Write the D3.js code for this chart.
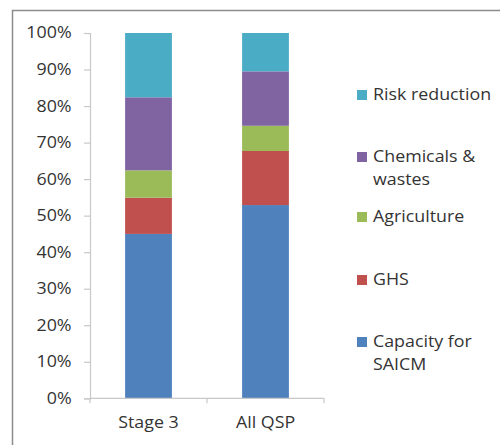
<!DOCTYPE html>
<html>
<head>
<meta charset="utf-8">
<script src="https://cdn.jsdelivr.net/npm/d3@7"></script>
<style>
  html, body { margin: 0; padding: 0; background: #fff; }
  svg { display: block; }
  text { font-family: "Open Sans", "Noto Sans", sans-serif; fill: #333; }
</style>
</head>
<body>
<svg id="chart" width="500" height="445"></svg>
<script>
// Share of funding by thematic area (fractions of 1)
const categories = ["Stage 3", "All QSP"];
const seriesNames = ["Capacity for SAICM", "GHS", "Agriculture", "Chemicals & wastes", "Risk reduction"];
const capacity   = [0.450, 0.529];
const ghs        = [0.099, 0.148];
const agriculture = [0.075, 0.069];
const chemicals  = [0.200, 0.149];
const risk       = [0.176, 0.105];
const yTicks = [0, 0.1, 0.2, 0.3, 0.4, 0.5, 0.6, 0.7, 0.8, 0.9, 1.0];
const colors = ["#4F81BD", "#C0504D", "#9BBB59", "#8064A2", "#4BACC6"];

const seriesValues = [capacity, ghs, agriculture, chemicals, risk];
const rows = categories.map((c, i) => {
  const r = { category: c };
  seriesNames.forEach((s, k) => { r[s] = seriesValues[k][i]; });
  return r;
});
const stacked = d3.stack().keys(seriesNames)(rows);

// horizontal widening applied to all labels
const SX = 1.15;
const FS = 15.5;

const svg = d3.select("#chart");

// chart frame
svg.append("path")
  .attr("d", "M12.5,446 V10.5 H501")
  .attr("fill", "none")
  .attr("stroke", "#8c8c8c")
  .attr("stroke-width", 1.5);

const plot = { left: 90, right: 324, top: 33, bottom: 398.3 };

const x = d3.scaleBand().domain(categories)
  .range([plot.left, plot.right]).paddingInner(0.6).paddingOuter(0.3);
const xOuter = d3.scaleBand().domain(categories).range([plot.left, plot.right]);
const y = d3.scaleLinear().domain([0, 1]).range([plot.bottom, plot.top]);

// y axis
const yAxis = svg.append("g")
  .attr("transform", `translate(${plot.left},0)`)
  .call(d3.axisLeft(y).tickValues(yTicks).tickFormat(d3.format(".0%")).tickSizeOuter(0).tickSize(6).tickPadding(10));
yAxis.select(".domain").attr("stroke", "#c8c8c8").attr("stroke-width", 1.2);
yAxis.selectAll(".tick line").attr("stroke", "#c8c8c8").attr("stroke-width", 1.2);
yAxis.selectAll(".tick text").attr("font-size", FS).attr("fill", "#333")
  .attr("font-family", "Open Sans, sans-serif")
  .attr("transform", `scale(${SX},1)`);

// bars
svg.append("g").selectAll("g").data(stacked).join("g")
  .attr("fill", (d, i) => colors[i])
  .selectAll("rect").data(d => d).join("rect")
  .attr("x", d => x(d.data.category))
  .attr("width", x.bandwidth())
  .attr("y", d => y(d[1]))
  .attr("height", d => y(d[0]) - y(d[1]));

// x axis
const xAxisG = svg.append("g").attr("transform", `translate(0,${plot.bottom})`);
xAxisG.append("line")
  .attr("x1", plot.left).attr("x2", plot.right)
  .attr("stroke", "#c8c8c8").attr("stroke-width", 1.2);
const boundaries = [plot.left, ...categories.map(c => xOuter(c) + xOuter.bandwidth())];
xAxisG.selectAll("line.tk").data(boundaries).join("line").attr("class", "tk")
  .attr("x1", d => d).attr("x2", d => d).attr("y1", 0).attr("y2", 5)
  .attr("stroke", "#c8c8c8").attr("stroke-width", 1.2);
xAxisG.selectAll("text").data(categories).join("text")
  .attr("transform", d => `translate(${xOuter(d) + xOuter.bandwidth() / 2},30) scale(${SX},1)`)
  .attr("text-anchor", "middle")
  .attr("font-size", FS)
  .text(d => d);

// legend (top-down: last series first)
const legendItems = [
  { name: "Risk reduction", lines: ["Risk reduction"], color: colors[4], y: 95 },
  { name: "Chemicals & wastes", lines: ["Chemicals &", "wastes"], color: colors[3], y: 157 },
  { name: "Agriculture", lines: ["Agriculture"], color: colors[2], y: 217 },
  { name: "GHS", lines: ["GHS"], color: colors[1], y: 280 },
  { name: "Capacity for SAICM", lines: ["Capacity for", "SAICM"], color: colors[0], y: 342 }
];
const lg = svg.append("g").selectAll("g").data(legendItems).join("g")
  .attr("transform", d => `translate(357,${d.y})`);
lg.append("rect").attr("x", 0).attr("y", -5).attr("width", 10).attr("height", 10)
  .attr("fill", d => d.color);
lg.append("text")
  .attr("transform", `translate(16,0) scale(${SX},1)`)
  .attr("font-size", FS)
  .selectAll("tspan").data(d => d.lines).join("tspan")
  .attr("x", 0).attr("dy", (d, i) => i === 0 ? "0.35em" : 23)
  .text(d => d);
</script>
</body>
</html>
